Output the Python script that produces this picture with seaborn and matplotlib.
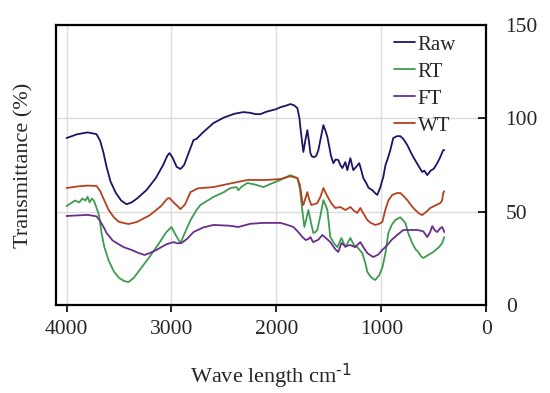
import matplotlib

matplotlib.use("Agg")
import matplotlib.pyplot as plt  # noqa: E402
import pandas as pd
import seaborn as sns

SERIES = ["Raw", "RT", "FT", "WT"]
COLORS = {"Raw": "#1b1566", "RT": "#3f9b50", "FT": "#6b2d8c", "WT": "#b5421f"}

raw_wn = [4000, 3950, 3900, 3850, 3800, 3750, 3714, 3680, 3650, 3619, 3580, 3530,
          3480, 3429, 3380, 3330, 3238, 3150, 3080, 3040, 3019, 2990, 2950, 2914,
          2880, 2840, 2790, 2762, 2700, 2600, 2500, 2400, 2314, 2250, 2200, 2152,
          2100, 2000, 1962, 1900, 1867, 1830, 1800, 1780, 1771, 1752, 1743, 1725,
          1705, 1690, 1676, 1660, 1638, 1620, 1600, 1575, 1552, 1530, 1514, 1495,
          1480, 1457, 1435, 1410, 1390, 1371, 1343, 1324, 1295, 1267, 1240, 1210,
          1190, 1171, 1140, 1124, 1100, 1086, 1060, 1038, 1010, 981, 960, 943,
          914, 886, 850, 819, 790, 752, 720, 695, 650, 610, 590, 562, 530, 500,
          467, 440, 410, 400]
raw_t = [89.5, 90.5, 91.5, 92.0, 92.5, 92.0, 91.5, 88.0, 82.0, 74.0, 66.0, 60.0,
         56.0, 54.0, 55.0, 57.0, 61.6, 68.0, 75.0, 80.0, 81.4, 79.0, 74.0, 72.9,
         75.0, 81.0, 88.4, 89.0, 92.5, 97.5, 100.5, 102.5, 103.4, 103.0, 102.3, 102.3,
         103.5, 105.0, 106.0, 107.0, 107.7, 107.0, 105.5, 100.0, 95.0, 86.0, 82.0, 88.0,
         93.7, 88.0, 81.4, 79.5, 79.3, 80.0, 83.0, 90.0, 96.4, 93.0, 90.0, 84.6,
         80.0, 76.0, 78.0, 77.7, 75.0, 73.4, 76.6, 72.3, 78.7, 72.3, 74.0, 76.0,
         72.0, 68.0, 65.0, 63.0, 62.0, 61.6, 60.0, 59.0, 63.0, 68.6, 75.0, 77.7,
         83.0, 89.5, 90.5, 90.5, 89.0, 85.7, 82.0, 79.3, 75.0, 71.3, 72.0, 69.6, 72.0, 73.0,
         76.0, 79.0, 83.0, 83.0]

rt_wn = [4000, 3960, 3920, 3880, 3850, 3820, 3800, 3780, 3760, 3740, 3714, 3690,
         3667, 3640, 3600, 3550, 3500, 3450, 3410, 3360, 3300, 3210, 3120, 3050,
         3000, 2960, 2914, 2870, 2819, 2760, 2724, 2600, 2500, 2438, 2380, 2362,
         2330, 2276, 2200, 2124, 2050, 1962, 1867, 1800, 1775, 1752, 1733, 1715,
         1695, 1670, 1648, 1630, 1610, 1580, 1552, 1535, 1514, 1486, 1450, 1419,
         1380, 1343, 1295, 1260, 1229, 1181, 1150, 1133, 1100, 1076, 1057, 1020,
         990, 960, 933, 900, 867, 819, 771, 740, 705, 675, 648, 620, 600, 560,
         505, 450, 419, 400]
rt_t = [53.0, 54.5, 56.0, 55.0, 57.0, 56.0, 58.0, 55.0, 57.0, 56.0, 52.0, 48.0,
        38.6, 31.0, 24.0, 18.0, 14.5, 12.8, 12.3, 14.5, 19.0, 25.7, 33.0, 39.0,
        41.8, 37.5, 33.2, 39.0, 45.5, 51.0, 53.6, 57.9, 60.5, 62.7, 63.2, 61.5,
        63.5, 65.4, 64.5, 63.2, 65.0, 67.0, 69.6, 68.0, 62.0, 50.0, 41.8, 46.0,
        50.9, 44.0, 38.6, 39.0, 40.2, 48.0, 56.2, 54.0, 50.9, 36.4, 33.0, 31.0,
        35.9, 31.0, 35.9, 32.0, 31.0, 27.8, 22.0, 17.7, 15.0, 14.0, 13.4, 16.0,
        20.0, 28.0, 38.6, 43.0, 45.5, 47.0, 44.0, 38.0, 33.2, 30.0, 28.4, 26.0, 25.2, 26.5,
        28.4, 31.0, 33.2, 36.4]

ft_wn = [4000, 3900, 3800, 3714, 3680, 3640, 3619, 3560, 3457, 3380, 3320, 3257,
         3200, 3143, 3050, 2981, 2940, 2905, 2850, 2790, 2700, 2600, 2450, 2362,
         2250, 2124, 1962, 1900, 1838, 1790, 1752, 1720, 1690, 1676, 1650, 1600,
         1562, 1520, 1486, 1440, 1410, 1380, 1343, 1295, 1250, 1200, 1160, 1133,
         1100, 1076, 1030, 990, 943, 900, 848, 790, 720, 657, 600, 562, 535, 514,
         490, 467, 440, 419, 400]
ft_t = [47.7, 48.0, 48.3, 47.5, 45.0, 41.0, 38.6, 34.5, 31.0, 29.5, 28.0, 26.8,
        28.0, 29.5, 32.5, 33.7, 33.0, 33.2, 35.5, 39.1, 41.5, 42.9, 42.5, 41.8,
        43.5, 44.0, 44.0, 43.0, 41.8, 39.0, 36.4, 34.8, 35.5, 36.4, 33.7, 35.0,
        37.5, 35.5, 33.7, 30.0, 28.4, 33.2, 31.5, 32.1, 31.0, 33.7, 30.0, 27.8,
        26.5, 25.7, 27.0, 29.5, 32.1, 35.0, 37.5, 40.2, 40.2, 40.2, 39.5, 36.4, 39.0, 42.3,
        40.0, 39.1, 41.0, 41.8, 39.1]

wt_wn = [4000, 3900, 3800, 3714, 3680, 3640, 3600, 3550, 3500, 3410, 3330, 3210,
         3100, 3040, 3019, 2980, 2914, 2870, 2819, 2750, 2600, 2450, 2276, 2100,
         1962, 1867, 1800, 1775, 1752, 1743, 1705, 1690, 1667, 1640, 1610, 1580,
         1552, 1530, 1505, 1470, 1438, 1390, 1343, 1295, 1260, 1229, 1200, 1170,
         1133, 1100, 1057, 1020, 990, 962, 933, 895, 850, 819, 790, 752, 710, 676,
         640, 610, 570, 533, 480, 438, 420, 410, 400]
wt_t = [62.7, 63.5, 64.0, 63.8, 61.0, 56.0, 51.0, 47.0, 44.5, 43.4, 44.5, 48.0,
        53.0, 57.0, 57.3, 55.0, 51.4, 54.0, 60.5, 62.5, 63.2, 65.0, 67.0, 67.0,
        67.5, 69.0, 68.0, 64.3, 55.0, 53.6, 60.5, 57.0, 53.6, 54.0, 54.6, 58.0,
        62.7, 60.0, 57.3, 54.0, 52.0, 52.5, 50.9, 52.5, 50.5, 49.3, 52.0, 49.0,
        45.5, 44.0, 42.9, 43.5, 44.5, 50.9, 56.0, 59.0, 60.0, 60.0, 58.5, 56.2, 53.0, 50.9,
        49.0, 48.2, 50.0, 52.0, 53.5, 54.6, 56.0, 60.0, 61.0]

x_ticks = [4000, 3000, 2000, 1000, 0]
y_ticks = [0, 50, 100, 150]

frames = []
for name, wn, t in [("Raw", raw_wn, raw_t), ("RT", rt_wn, rt_t),
                    ("FT", ft_wn, ft_t), ("WT", wt_wn, wt_t)]:
    frames.append(pd.DataFrame({"wn": wn, "T": t, "sample": name}))
df = pd.concat(frames, ignore_index=True)

sns.set_style("white")
plt.rcParams["font.family"] = ["Liberation Serif", "DejaVu Serif"]
plt.rcParams["mathtext.default"] = "regular"

fig = plt.figure(figsize=(5.5, 3.93), dpi=100)
ax = fig.add_axes([0.102, 0.224, 0.782, 0.712])

sns.lineplot(data=df, x="wn", y="T", hue="sample", hue_order=SERIES,
             palette=COLORS, estimator=None, sort=False, linewidth=1.3, ax=ax)

ax.set_xlim(4100, 0)
ax.set_ylim(0, 150)
ax.set_xticks(x_ticks)
ax.set_yticks(y_ticks)
ax.grid(True, color="#dcdcdc", linewidth=1.0)
ax.yaxis.tick_right()
ax.yaxis.set_label_position("left")
ax.tick_params(axis="x", direction="out", length=5, width=1.2, pad=6,
               labelsize=15.5, bottom=True, color="black")
ax.tick_params(axis="y", direction="in", length=6, width=1.2, pad=14,
               labelsize=15.5, right=True, left=False, color="black")
for sp in ax.spines.values():
    sp.set_color("black")
    sp.set_linewidth(1.6)

ax.set_xlabel(r"Wave length cm$^{\text{-1}}$", fontsize=16, labelpad=16)
ax.set_ylabel("Transmittance (%)", fontsize=16, labelpad=16)

ax.legend(loc="upper left", bbox_to_anchor=(0.785, 0.965), frameon=False,
          fontsize=15, handlelength=1.0, handletextpad=0.15, labelspacing=0.36,
          borderpad=0, borderaxespad=0)

fig.savefig("out.png", dpi=100)
plt.close(fig)
